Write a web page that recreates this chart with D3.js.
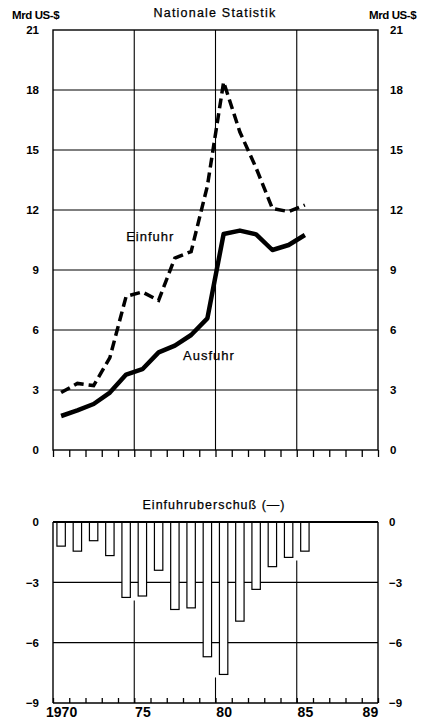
<!DOCTYPE html>
<html>
<head>
<meta charset="utf-8">
<script src="https://cdn.jsdelivr.net/npm/d3@7"></script>
<style>
  body { margin: 0; background: #fff; }
  svg { display: block; font-family: 'Liberation Sans', Arial, sans-serif; }
  .tick text { font-weight: bold; fill: #000; }
  .domain { display: none; }
  .lbl { fill: #000; stroke: #000; stroke-width: 0.25px; }
</style>
</head>
<body>
<script>
// data
const years = [1970, 1971, 1972, 1973, 1974, 1975, 1976, 1977, 1978, 1979, 1980, 1981, 1982, 1983, 1984, 1985];
const einfuhr = [2.87, 3.33, 3.22, 4.62, 7.68, 7.9, 7.48, 9.6, 9.92, 13.2, 18.4, 15.9, 14.1, 12.08, 11.92, 12.25];
const ausfuhr = [1.7, 1.98, 2.3, 2.87, 3.77, 4.04, 4.88, 5.22, 5.75, 6.58, 10.8, 10.97, 10.78, 10.0, 10.25, 10.75];
const saldo = [-1.2, -1.45, -0.93, -1.67, -3.75, -3.68, -2.4, -4.35, -4.27, -6.7, -7.58, -4.93, -3.35, -2.22, -1.76, -1.45];
const topTicks = [0, 3, 6, 9, 12, 15, 18, 21];
const bottomTicks = [0, -3, -6, -9];
const gridYears = [1975, 1980, 1985];
const labelYears = [1970, 1975, 1980, 1985, 1989];
const labelText = ['1970', '75', '80', '85', '89'];

const w = 423;
const h = 725;

const svg = d3.select('body')
              .append('svg')
              .attr('width', w)
              .attr('height', h)

const x = d3.scaleLinear()
            .domain([1970, 1990])
            .range([53, 378])
const yTop = d3.scaleLinear()
               .domain([0, 21])
               .range([450, 30])
const yBot = d3.scaleLinear()
               .domain([-9, 0])
               .range([703, 522])

const boundaries = d3.range(1970, 1991);
const mid = yr => x(yr + 0.5);

// ---------- upper chart ----------
const upper = svg.append('g');

upper.append('g')
   .selectAll('line')
   .data(topTicks.slice(1, -1))
   .enter()
   .append('line')
   .attr('x1', x(1970)).attr('x2', x(1990))
   .attr('y1', d => yTop(d)).attr('y2', d => yTop(d))
   .attr('stroke', '#000').attr('stroke-width', 1.1)

upper.append('g')
   .selectAll('line')
   .data(gridYears)
   .enter()
   .append('line')
   .attr('x1', d => x(d)).attr('x2', d => x(d))
   .attr('y1', yTop(21)).attr('y2', yTop(0))
   .attr('stroke', '#000').attr('stroke-width', 1.1)

upper.append('rect')
   .attr('x', x(1970)).attr('y', yTop(21))
   .attr('width', x(1990) - x(1970)).attr('height', yTop(0) - yTop(21))
   .attr('fill', 'none').attr('stroke', '#000').attr('stroke-width', 1.4)

upper.append('g')
   .attr('transform', `translate(0,${yTop(0)})`)
   .call(d3.axisBottom(x).tickValues(boundaries).tickFormat('').tickSizeInner(7).tickSizeOuter(0))
   .selectAll('.tick line').attr('stroke-width', 1.3)

upper.append('g')
   .attr('transform', 'translate(41,0)')
   .call(d3.axisLeft(yTop).tickValues(topTicks).tickSize(0).tickPadding(2))
   .selectAll('text').style('font-size', '11.5px')

upper.append('g')
   .attr('transform', 'translate(388,0)')
   .call(d3.axisRight(yTop).tickValues(topTicks).tickSize(0).tickPadding(2))
   .selectAll('text').style('font-size', '11.5px')

const line = yScale => d3.line()
                         .x((d, i) => mid(years[i]))
                         .y(d => yScale(d))

upper.append('path')
   .datum(einfuhr)
   .attr('d', line(yTop))
   .attr('fill', 'none')
   .attr('stroke', '#000')
   .attr('stroke-width', 3.5)
   .attr('stroke-dasharray', '10,5')

upper.append('path')
   .datum(ausfuhr)
   .attr('d', line(yTop))
   .attr('fill', 'none')
   .attr('stroke', '#000')
   .attr('stroke-width', 4.5)
   .attr('stroke-linejoin', 'round')

upper.append('text')
   .attr('class', 'lbl')
   .attr('x', x(1974.5)).attr('y', yTop(10.45))
   .style('font-size', '13px').style('letter-spacing', '1px')
   .text('Einfuhr')
upper.append('text')
   .attr('class', 'lbl')
   .attr('x', x(1978)).attr('y', yTop(4.5))
   .style('font-size', '13px').style('letter-spacing', '1px')
   .text('Ausfuhr')

svg.append('text')
   .attr('class', 'lbl')
   .attr('x', 215).attr('y', 17)
   .attr('text-anchor', 'middle')
   .style('font-size', '12.5px').style('letter-spacing', '1.2px')
   .text('Nationale Statistik')
svg.append('text')
   .attr('x', 12).attr('y', 19)
   .style('font-size', '11.5px').style('font-weight', 'bold').style('letter-spacing', '-0.4px')
   .text('Mrd US-$')
svg.append('text')
   .attr('x', 369).attr('y', 19)
   .style('font-size', '11.5px').style('font-weight', 'bold').style('letter-spacing', '-0.4px')
   .text('Mrd US-$')

// ---------- lower chart ----------
const lower = svg.append('g');

lower.append('g')
   .selectAll('line')
   .data(bottomTicks.slice(1, -1))
   .enter()
   .append('line')
   .attr('x1', x(1970)).attr('x2', x(1990))
   .attr('y1', d => yBot(d)).attr('y2', d => yBot(d))
   .attr('stroke', '#000').attr('stroke-width', 1.1)

// vertical grid lines only show below the bars next to them
lower.append('g')
   .selectAll('line')
   .data(gridYears)
   .enter()
   .append('line')
   .attr('x1', d => x(d)).attr('x2', d => x(d))
   .attr('y1', d => {
     const near = saldo.filter((v, i) => years[i] === d || years[i] === d - 1);
     return yBot(d3.min(near)) + 3;
   })
   .attr('y2', yBot(-9))
   .attr('stroke', '#000').attr('stroke-width', 1.1)

const barW = 8.4;
lower.append('g')
   .selectAll('rect')
   .data(saldo)
   .enter()
   .append('rect')
   .attr('x', (d, i) => mid(years[i]) - barW / 2)
   .attr('y', yBot(0))
   .attr('width', barW)
   .attr('height', d => yBot(d) - yBot(0))
   .attr('fill', '#fff')
   .attr('stroke', '#000')
   .attr('stroke-width', 1.2)

lower.append('line')
   .attr('x1', x(1970)).attr('x2', x(1990))
   .attr('y1', yBot(0)).attr('y2', yBot(0))
   .attr('stroke', '#000').attr('stroke-width', 2)
lower.append('line')
   .attr('x1', x(1970)).attr('x2', x(1970))
   .attr('y1', yBot(0)).attr('y2', yBot(-9))
   .attr('stroke', '#000').attr('stroke-width', 1.4)
lower.append('line')
   .attr('x1', x(1990)).attr('x2', x(1990))
   .attr('y1', yBot(0)).attr('y2', yBot(-9))
   .attr('stroke', '#000').attr('stroke-width', 1.4)
lower.append('line')
   .attr('x1', x(1970)).attr('x2', x(1990))
   .attr('y1', yBot(-9)).attr('y2', yBot(-9))
   .attr('stroke', '#000').attr('stroke-width', 1.4)

lower.append('g')
   .attr('transform', `translate(0,${yBot(-9)})`)
   .call(d3.axisBottom(x).tickValues(boundaries).tickFormat('').tickSizeInner(-5).tickSizeOuter(0))
   .selectAll('.tick line').attr('stroke-width', 1.3)

lower.append('g')
   .attr('transform', `translate(0,${yBot(-9)})`)
   .call(d3.axisBottom(x).tickValues(labelYears.map(d => d + 0.5))
          .tickFormat((d, i) => labelText[i]).tickSize(0).tickPadding(4))
   .selectAll('text').style('font-size', '14px')

const fmtMinus = d => d < 0 ? '\u2212' + Math.abs(d) : d;
lower.append('g')
   .attr('transform', 'translate(41,0)')
   .call(d3.axisLeft(yBot).tickValues(bottomTicks).tickFormat(fmtMinus).tickSize(0).tickPadding(2))
   .selectAll('text').style('font-size', '11.5px')

lower.append('g')
   .attr('transform', 'translate(387,0)')
   .call(d3.axisRight(yBot).tickValues(bottomTicks).tickFormat(fmtMinus).tickSize(0).tickPadding(2))
   .selectAll('text').style('font-size', '11.5px')

svg.append('text')
   .attr('class', 'lbl')
   .attr('x', 214).attr('y', 509)
   .attr('text-anchor', 'middle')
   .style('font-size', '12.5px').style('letter-spacing', '1px')
   .text('Einfuhruberschuß (—)')
</script>
</body>
</html>
